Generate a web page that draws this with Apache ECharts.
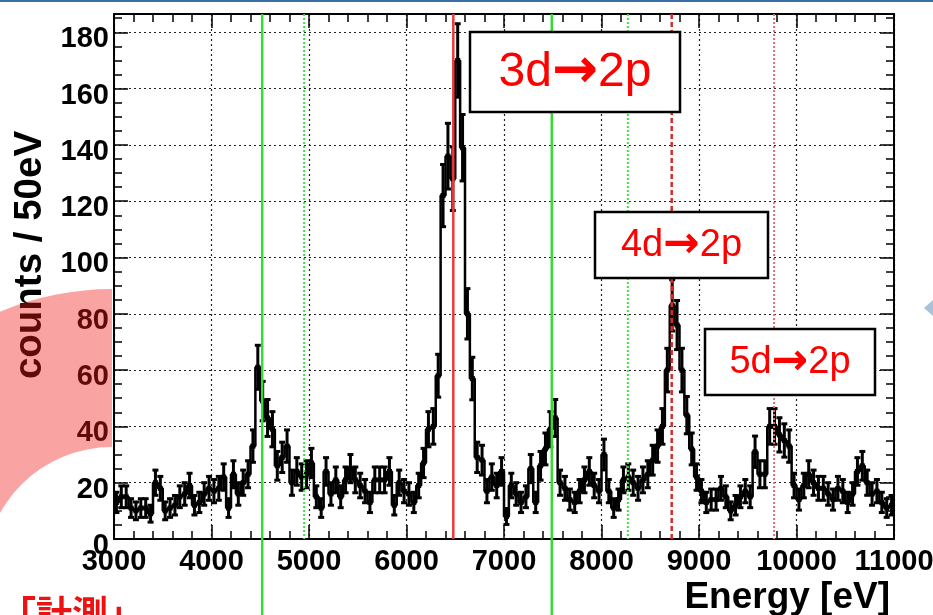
<!DOCTYPE html>
<html>
<head>
<meta charset="utf-8">
<script src="https://cdn.jsdelivr.net/npm/echarts@6/dist/echarts.min.js"></script>
<style>
html, body { margin: 0; padding: 0; background: #fff; }
#chart { width: 933px; height: 615px; }
</style>
</head>
<body>
<div id="chart"></div>
<script>
// histogram: counts per 50 eV bin, 3000 - 11000 eV
var binStart = 3000;
var binWidth = 50;
var counts = [
    13, 15, 15, 11, 10, 11, 11, 9, 20, 18,
    10, 11, 12, 15, 16, 19, 12, 13, 16, 18,
    17, 18, 22, 11, 23, 16, 20, 23, 33, 61,
    49, 43, 39, 26, 29, 33, 20, 24, 22, 23,
    27, 15, 11, 24, 16, 21, 15, 21, 25, 21,
    19, 17, 13, 21, 21, 21, 24, 12, 20, 17,
    16, 13, 19, 27, 39, 40, 58, 122, 136, 128,
    170, 139, 80, 57, 29, 28, 17, 22, 19, 24,
    8, 19, 16, 13, 15, 25, 13, 26, 32, 39,
    43, 20, 18, 14, 13, 17, 21, 24, 19, 17,
    30, 17, 11, 14, 21, 22, 20, 18, 21, 23,
    28, 33, 40, 60, 83, 76, 60, 44, 32, 22,
    17, 13, 14, 14, 18, 15, 10, 12, 15, 17,
    15, 31, 23, 23, 40, 40, 37, 35, 33, 19,
    14, 19, 23, 20, 18, 18, 16, 14, 18, 17,
    13, 16, 24, 26, 20, 16, 17, 13, 11, 12
];

// vertical marker lines (energy in eV) and their kind
var lineEnergies = [4520, 4950, 6480, 7490, 8270, 8720, 9770];
var lineKinds = ['green', 'greenDot', 'red', 'green', 'greenDot', 'redDash', 'redDot'];

var transitions = ['3d', '4d', '5d'];

var xMin = 3000, xMax = 11000;
var yMax = 186.5;

var stepData = counts.map(function (c, i) { return [binStart + i * binWidth, c]; });
stepData.push([binStart + counts.length * binWidth, counts[counts.length - 1]]);

var errData = counts.map(function (c, i) {
    return [binStart + (i + 0.5) * binWidth, c, Math.sqrt(c)];
});

var lineData = lineEnergies.map(function (e, i) { return [e, i]; });

var lineStyles = {
    green:    { stroke: '#33dd33', lineWidth: 2.5 },
    greenDot: { stroke: '#44dd44', lineWidth: 2, lineDash: [2, 2] },
    red:      { stroke: '#e83a3a', lineWidth: 2.5 },
    redDash:  { stroke: '#d92a2a', lineWidth: 2.5, lineDash: [5, 3] },
    redDot:   { stroke: '#e07070', lineWidth: 2, lineDash: [2, 2] }
};

var labelFont = { color: '#000', fontFamily: 'Liberation Sans', fontWeight: 'bold', fontSize: 29 };
var dotted = { color: '#222', width: 1.2, type: [2, 3] };
var frame = { show: true, onZero: false, lineStyle: { color: '#000', width: 2 } };
var ticks = { show: true, inside: true, length: 14, lineStyle: { color: '#000', width: 1.5 } };

function plain(v) { return String(v); }

function box(x, y, w, h, name, size) {
    return {
        type: 'group', z: 60,
        children: [
            { type: 'rect', shape: { x: x, y: y, width: w, height: h },
              style: { fill: '#fff', stroke: '#000', lineWidth: 2.5 }, z: 60 },
            { type: 'text', z: 61,
              style: { text: '{t|' + name + '}{a|→}{t|2p}', x: x + w / 2, y: y + h / 2 + 1,
                       align: 'center', verticalAlign: 'middle',
                       rich: {
                           t: { fill: '#ff0000', fontFamily: 'Liberation Sans', fontSize: size },
                           a: { fill: '#ff0000', fontFamily: 'DejaVu Sans', fontWeight: 'bold', fontSize: size * 1.15 }
                       } } }
        ]
    };
}

var chart = echarts.init(document.getElementById('chart'));

var option = {
    animation: false,
    backgroundColor: 'transparent',
    grid: {
        left: 114, right: 39, top: 14, bottom: 76,
        show: true, backgroundColor: '#fff', borderWidth: 0,
        outerBoundsMode: 'none'
    },
    xAxis: [{
        type: 'value', min: xMin, max: xMax, interval: 1000,
        axisLine: frame,
        axisTick: ticks,
        minorTick: { show: true, splitNumber: 5, length: 8, lineStyle: { color: '#000', width: 1.5 } },
        axisLabel: Object.assign({ margin: 8, formatter: plain }, labelFont),
        splitLine: { show: true, lineStyle: dotted }
    }, {
        type: 'value', min: xMin, max: xMax, interval: 1000, position: 'top',
        axisLine: frame,
        axisTick: ticks,
        minorTick: { show: true, splitNumber: 5, length: 8, lineStyle: { color: '#000', width: 1.5 } },
        axisLabel: { show: false },
        splitLine: { show: false }
    }],
    yAxis: [{
        type: 'value', min: 0, max: yMax, interval: 20,
        axisLine: frame,
        axisTick: ticks,
        minorTick: { show: true, splitNumber: 4, length: 8, lineStyle: { color: '#000', width: 1.5 } },
        axisLabel: Object.assign({ margin: 5, showMaxLabel: false, formatter: plain,
                                   verticalAlign: 'top', lineHeight: 14 }, labelFont),
        splitLine: { show: true, lineStyle: dotted }
    }, {
        type: 'value', min: 0, max: yMax, interval: 20, position: 'right',
        axisLine: frame,
        axisTick: ticks,
        minorTick: { show: true, splitNumber: 4, length: 8, lineStyle: { color: '#000', width: 1.5 } },
        axisLabel: { show: false },
        splitLine: { show: false }
    }],
    series: [{
        type: 'line',
        data: stepData,
        step: 'end',
        symbol: 'none',
        lineStyle: { color: '#000', width: 2.5 },
        z: 3
    }, {
        type: 'custom',
        data: errData,
        z: 4,
        renderItem: function (params, api) {
            var x = api.value(0), y = api.value(1), e = api.value(2);
            var top = api.coord([x, y + e]);
            var bot = api.coord([x, y - e]);
            var mid = api.coord([x, y]);
            var h = 3;
            var st = { stroke: '#000', lineWidth: 3 };
            return {
                type: 'group',
                children: [
                    { type: 'line', shape: { x1: top[0], y1: top[1], x2: bot[0], y2: bot[1] }, style: st },
                    { type: 'line', shape: { x1: top[0] - h, y1: top[1], x2: top[0] + h, y2: top[1] }, style: st },
                    { type: 'line', shape: { x1: bot[0] - h, y1: bot[1], x2: bot[0] + h, y2: bot[1] }, style: st },
                    { type: 'rect', shape: { x: mid[0] - 2.5, y: mid[1] - 2.5, width: 5, height: 5 }, style: { fill: '#000' } }
                ]
            };
        }
    }, {
        type: 'custom',
        data: lineData,
        z: 10,
        clip: false,
        renderItem: function (params, api) {
            var e = api.value(0);
            var kind = lineKinds[api.value(1)];
            var p0 = api.coord([e, yMax]);
            var p1 = api.coord([e, 0]);
            var yEnd = kind === 'green' ? api.getHeight() : p1[1];
            return {
                type: 'line',
                shape: { x1: p0[0], y1: p0[1], x2: p1[0], y2: yEnd },
                style: lineStyles[kind]
            };
        }
    }],
    graphic: [
        { type: 'rect', shape: { x: 0, y: 0, width: 933, height: 2 }, style: { fill: '#3b6ea5' }, z: 90 },
        { type: 'polygon', shape: { points: [[924, 308], [933, 300], [933, 316]] }, style: { fill: '#a9c0d8' }, z: 90 },
        { type: 'text', z: 20,
          style: { text: 'counts / 50eV', x: 30, y: 255, align: 'center', verticalAlign: 'middle',
                   fill: '#000', font: 'bold 38.5px "Liberation Sans"' },
          rotation: Math.PI / 2, originX: 30, originY: 255 },
        { type: 'text', z: 20,
          style: { text: 'Energy [eV]', x: 890, y: 579, align: 'right', verticalAlign: 'top',
                   fill: '#000', font: 'bold 37px "Liberation Sans"' } },
        { type: 'text', z: 20,
          style: { text: '「計測」', x: 0, y: 595, align: 'left', verticalAlign: 'top',
                   fill: '#ee1111', font: 'bold 36px "Noto Sans CJK JP"' } },
        box(470, 32, 210, 80, transitions[0], 48),
        box(595, 212, 173, 66, transitions[1], 38),
        box(705, 329, 170, 66, transitions[2], 38),
        { type: 'sector', z: 100,
          shape: { cx: 112, cy: 575, r: 286, r0: 128, startAngle: Math.PI / 2, endAngle: Math.PI * 1.5, clockwise: true },
          style: { fill: 'rgba(243, 24, 24, 0.4)' } }
    ]
};

chart.setOption(option);
</script>
</body>
</html>
